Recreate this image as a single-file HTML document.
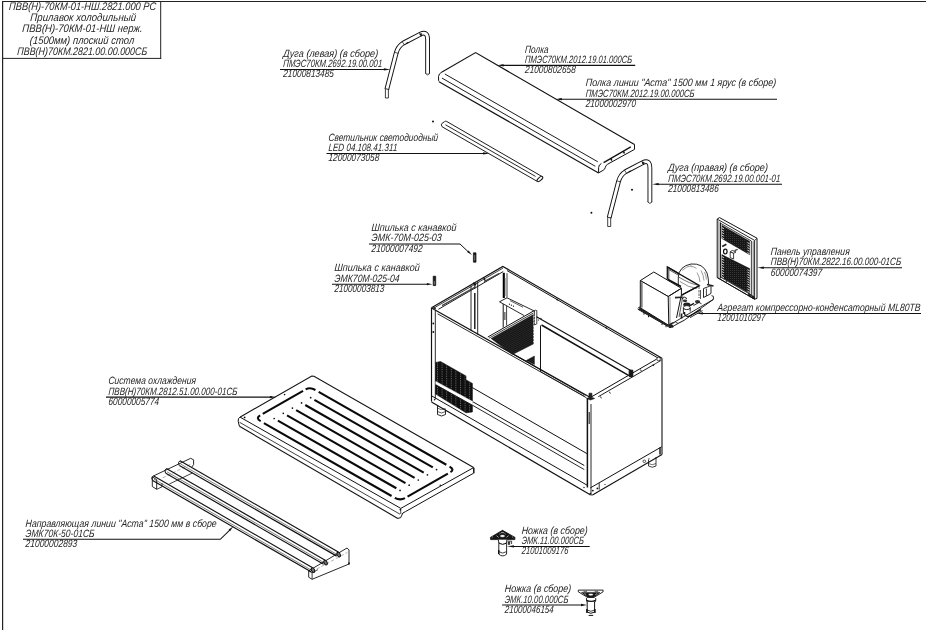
<!DOCTYPE html>
<html lang="ru"><head><meta charset="utf-8"><title>ПВВ(Н)-70КМ-01-НШ.2821.000 РС</title>
<style>
html,body{margin:0;padding:0;background:#fff}
body{width:926px;height:630px;overflow:hidden}
svg{display:block;will-change:transform}
text{font-family:"Liberation Sans",sans-serif;font-style:italic;fill:#262626}
.t{font-size:10.6px}
.h{font-size:11px}
</style></head><body>
<svg width="926" height="630" viewBox="0 0 926 630">
<rect width="926" height="630" fill="#fff"/>
<defs>
<pattern id="hx" width="2" height="2" patternUnits="userSpaceOnUse"><rect width="2" height="2" fill="#161616"/><rect x="0" y="0" width="0.6" height="0.6" fill="#6a6a6a"/></pattern>
<pattern id="hd" width="3" height="1.7" patternUnits="userSpaceOnUse" patternTransform="rotate(-29.5)"><rect width="3" height="1.7" fill="#121212"/><rect x="0" y="0" width="3" height="0.35" fill="#4a4a4a"/></pattern>
<pattern id="hg" width="4.6" height="1.8" patternUnits="userSpaceOnUse"><rect width="4.6" height="1.8" fill="#101010"/><rect x="0" y="0" width="0.7" height="0.9" fill="#8a8a8a"/></pattern>
</defs>
<line x1="2" y1="1.5" x2="926" y2="1.5" stroke="#222" stroke-width="1.2"/>
<line x1="2.6" y1="1" x2="2.6" y2="630" stroke="#222" stroke-width="1.2"/>
<line x1="2" y1="58.4" x2="161.2" y2="58.4" stroke="#222" stroke-width="1"/>
<line x1="160.7" y1="1" x2="160.7" y2="58.9" stroke="#222" stroke-width="1"/>
<text class="h" x="8.8" y="9.6" textLength="147.2" lengthAdjust="spacingAndGlyphs" transform="translate(8.8 9.6) skewX(-4) translate(-8.8 -9.6)">ПВВ(Н)-70КМ-01-НШ.2821.000 РС</text>
<text class="h" x="30" y="21" textLength="106" lengthAdjust="spacingAndGlyphs" transform="translate(30 21) skewX(-4) translate(-30 -21)">Прилавок холодильный</text>
<text class="h" x="22" y="32.5" textLength="120.5" lengthAdjust="spacingAndGlyphs" transform="translate(22 32.5) skewX(-4) translate(-22 -32.5)">ПВВ(Н)-70КМ-01-НШ нерж.</text>
<text class="h" x="29.5" y="44" textLength="104.5" lengthAdjust="spacingAndGlyphs" transform="translate(29.5 44) skewX(-4) translate(-29.5 -44)">(1500мм) плоский стол</text>
<text class="h" x="17" y="55.5" textLength="130" lengthAdjust="spacingAndGlyphs" transform="translate(17 55.5) skewX(-4) translate(-17 -55.5)">ПВВ(Н)70КМ.2821.00.00.000СБ</text>
<text class="t" x="283" y="56.7" textLength="95" lengthAdjust="spacingAndGlyphs" transform="translate(283 56.7) skewX(-4) translate(-283 -56.7)">Дуга (левая) (в сборе)</text>
<text class="t" x="283" y="67" textLength="99" lengthAdjust="spacingAndGlyphs" transform="translate(283 67) skewX(-4) translate(-283 -67)">ПМЭС70КМ.2692.19.00.001</text>
<text class="t" x="283" y="77.3" textLength="50.7" lengthAdjust="spacingAndGlyphs" transform="translate(283 77.3) skewX(-4) translate(-283 -77.3)">21000813485</text>
<line x1="280" y1="69.4" x2="386" y2="69.4" stroke="#111" stroke-width="1.05"/>
<polygon points="390.4,69.4 383.9,70.5 383.9,68.3" fill="#111"/>
<text class="t" x="328.2" y="140.7" textLength="109.8" lengthAdjust="spacingAndGlyphs" transform="translate(328.2 140.7) skewX(-4) translate(-328.2 -140.7)">Светильник светодиодный</text>
<text class="t" x="328.2" y="151" textLength="69" lengthAdjust="spacingAndGlyphs" transform="translate(328.2 151) skewX(-4) translate(-328.2 -151)">LED 04.108.41.311</text>
<text class="t" x="328.2" y="161.3" textLength="50.8" lengthAdjust="spacingAndGlyphs" transform="translate(328.2 161.3) skewX(-4) translate(-328.2 -161.3)">12000073058</text>
<line x1="326.5" y1="153.4" x2="485" y2="153.4" stroke="#111" stroke-width="1.05"/>
<polygon points="489.5,153.4 483,154.5 483,152.3" fill="#111"/>
<text class="t" x="524.8" y="52.65" textLength="23.6" lengthAdjust="spacingAndGlyphs" transform="translate(524.8 52.65) skewX(-4) translate(-524.8 -52.65)">Полка</text>
<text class="t" x="524.8" y="62.95" textLength="107.1" lengthAdjust="spacingAndGlyphs" transform="translate(524.8 62.95) skewX(-4) translate(-524.8 -62.95)">ПМЭС70КМ.2012.19.01.000СБ</text>
<text class="t" x="524.8" y="73.25" textLength="50.7" lengthAdjust="spacingAndGlyphs" transform="translate(524.8 73.25) skewX(-4) translate(-524.8 -73.25)">21000802658</text>
<line x1="501" y1="65.35" x2="635.2" y2="65.35" stroke="#111" stroke-width="1.05"/>
<polygon points="497.2,65.35 503.7,64.25 503.7,66.45" fill="#111"/>
<text class="t" x="585.5" y="86.5" textLength="190.5" lengthAdjust="spacingAndGlyphs" transform="translate(585.5 86.5) skewX(-4) translate(-585.5 -86.5)">Полка линии &quot;Аста&quot; 1500 мм 1 ярус (в сборе)</text>
<text class="t" x="585.5" y="96.8" textLength="108.9" lengthAdjust="spacingAndGlyphs" transform="translate(585.5 96.8) skewX(-4) translate(-585.5 -96.8)">ПМЭС70КМ.2012.19.00.000СБ</text>
<text class="t" x="585.5" y="107.1" textLength="50.2" lengthAdjust="spacingAndGlyphs" transform="translate(585.5 107.1) skewX(-4) translate(-585.5 -107.1)">21000002970</text>
<line x1="559" y1="99.2" x2="777" y2="99.2" stroke="#111" stroke-width="1.05"/>
<polygon points="555.4,99.2 561.9,98.1 561.9,100.3" fill="#111"/>
<text class="t" x="667.9" y="171.5" textLength="99.8" lengthAdjust="spacingAndGlyphs" transform="translate(667.9 171.5) skewX(-4) translate(-667.9 -171.5)">Дуга (правая) (в сборе)</text>
<text class="t" x="667.9" y="181.8" textLength="112.3" lengthAdjust="spacingAndGlyphs" transform="translate(667.9 181.8) skewX(-4) translate(-667.9 -181.8)">ПМЭС70КМ.2692.19.00.001-01</text>
<text class="t" x="667.9" y="192.1" textLength="50.6" lengthAdjust="spacingAndGlyphs" transform="translate(667.9 192.1) skewX(-4) translate(-667.9 -192.1)">21000813486</text>
<line x1="656" y1="184.2" x2="782" y2="184.2" stroke="#111" stroke-width="1.05"/>
<polygon points="652.2,184.2 658.7,183.1 658.7,185.3" fill="#111"/>
<text class="t" x="371.3" y="231.1" textLength="85" lengthAdjust="spacingAndGlyphs" transform="translate(371.3 231.1) skewX(-4) translate(-371.3 -231.1)">Шпилька с канавкой</text>
<text class="t" x="371.3" y="241.4" textLength="70.3" lengthAdjust="spacingAndGlyphs" transform="translate(371.3 241.4) skewX(-4) translate(-371.3 -241.4)">ЭМК-70М-025-03</text>
<text class="t" x="371.3" y="251.7" textLength="51" lengthAdjust="spacingAndGlyphs" transform="translate(371.3 251.7) skewX(-4) translate(-371.3 -251.7)">21000007492</text>
<polyline points="369,244 460,244 469,252.5" fill="none" stroke="#111" stroke-width="1"/>
<polygon points="471.9,255 467.14,252.03 468.65,250.43" fill="#111"/>
<text class="t" x="334.2" y="271.5" textLength="85.3" lengthAdjust="spacingAndGlyphs" transform="translate(334.2 271.5) skewX(-4) translate(-334.2 -271.5)">Шпилька с канавкой</text>
<text class="t" x="334.2" y="281.8" textLength="65.2" lengthAdjust="spacingAndGlyphs" transform="translate(334.2 281.8) skewX(-4) translate(-334.2 -281.8)">ЭМК70М-025-04</text>
<text class="t" x="334.2" y="292.1" textLength="49.9" lengthAdjust="spacingAndGlyphs" transform="translate(334.2 292.1) skewX(-4) translate(-334.2 -292.1)">21000003813</text>
<line x1="332" y1="284.2" x2="428" y2="284.2" stroke="#111" stroke-width="1.05"/>
<polygon points="432.4,284.2 426.9,285.3 426.9,283.1" fill="#111"/>
<text class="t" x="770.5" y="255" textLength="79" lengthAdjust="spacingAndGlyphs" transform="translate(770.5 255) skewX(-4) translate(-770.5 -255)">Панель управления</text>
<text class="t" x="770.5" y="265.3" textLength="130.5" lengthAdjust="spacingAndGlyphs" transform="translate(770.5 265.3) skewX(-4) translate(-770.5 -265.3)">ПВВ(Н)70КМ.2822.16.00.000-01СБ</text>
<text class="t" x="770.5" y="275.6" textLength="51.4" lengthAdjust="spacingAndGlyphs" transform="translate(770.5 275.6) skewX(-4) translate(-770.5 -275.6)">60000074397</text>
<line x1="761" y1="267.7" x2="902" y2="267.7" stroke="#111" stroke-width="1.05"/>
<polygon points="757.4,267.7 763.9,266.6 763.9,268.8" fill="#111"/>
<text class="t" x="717.3" y="311" textLength="203.1" lengthAdjust="spacingAndGlyphs" transform="translate(717.3 311) skewX(-4) translate(-717.3 -311)">Агрегат компрессорно-конденсаторный ML80TB</text>
<text class="t" x="717.3" y="321.3" textLength="47.7" lengthAdjust="spacingAndGlyphs" transform="translate(717.3 321.3) skewX(-4) translate(-717.3 -321.3)">12001010297</text>
<line x1="700" y1="313.4" x2="921" y2="313.4" stroke="#111" stroke-width="1.05"/>
<polygon points="696.5,313.4 703,312.3 703,314.5" fill="#111"/>
<text class="t" x="108.2" y="384.4" textLength="87.6" lengthAdjust="spacingAndGlyphs" transform="translate(108.2 384.4) skewX(-4) translate(-108.2 -384.4)">Система охлаждения</text>
<text class="t" x="108.2" y="394.7" textLength="129" lengthAdjust="spacingAndGlyphs" transform="translate(108.2 394.7) skewX(-4) translate(-108.2 -394.7)">ПВВ(Н)70КМ.2812.51.00.000-01СБ</text>
<text class="t" x="108.2" y="405" textLength="50.7" lengthAdjust="spacingAndGlyphs" transform="translate(108.2 405) skewX(-4) translate(-108.2 -405)">60000005774</text>
<line x1="106" y1="397.1" x2="272" y2="397.1" stroke="#111" stroke-width="1.05"/>
<polygon points="276.4,397.1 269.9,398.2 269.9,396" fill="#111"/>
<text class="t" x="25.3" y="526.6" textLength="191.2" lengthAdjust="spacingAndGlyphs" transform="translate(25.3 526.6) skewX(-4) translate(-25.3 -526.6)">Направляющая линии &quot;Аста&quot; 1500 мм в сборе</text>
<text class="t" x="25.3" y="536.9" textLength="69.1" lengthAdjust="spacingAndGlyphs" transform="translate(25.3 536.9) skewX(-4) translate(-25.3 -536.9)">ЭМК70К-50-01СБ</text>
<text class="t" x="25.3" y="547.2" textLength="51.7" lengthAdjust="spacingAndGlyphs" transform="translate(25.3 547.2) skewX(-4) translate(-25.3 -547.2)">21000002893</text>
<polyline points="23,539.3 220.3,539.3 230.5,529.3" fill="none" stroke="#111" stroke-width="1.05"/>
<polygon points="233.3,526.5 230.12,531.12 228.59,529.54" fill="#111"/>
<text class="t" x="521.4" y="533.7" textLength="66.1" lengthAdjust="spacingAndGlyphs" transform="translate(521.4 533.7) skewX(-4) translate(-521.4 -533.7)">Ножка (в сборе)</text>
<text class="t" x="521.4" y="544" textLength="62.4" lengthAdjust="spacingAndGlyphs" transform="translate(521.4 544) skewX(-4) translate(-521.4 -544)">ЭМК.11.00.000СБ</text>
<text class="t" x="521.4" y="554.3" textLength="46.8" lengthAdjust="spacingAndGlyphs" transform="translate(521.4 554.3) skewX(-4) translate(-521.4 -554.3)">21001009176</text>
<line x1="512" y1="546.4" x2="589.7" y2="546.4" stroke="#111" stroke-width="1.05"/>
<polygon points="507,546.4 514,545.2 514,547.6" fill="#111"/>
<text class="t" x="504.5" y="592.3" textLength="66.5" lengthAdjust="spacingAndGlyphs" transform="translate(504.5 592.3) skewX(-4) translate(-504.5 -592.3)">Ножка (в сборе)</text>
<text class="t" x="504.5" y="602.6" textLength="63.7" lengthAdjust="spacingAndGlyphs" transform="translate(504.5 602.6) skewX(-4) translate(-504.5 -602.6)">ЭМК.10.00.000СБ</text>
<text class="t" x="504.5" y="612.9" textLength="49" lengthAdjust="spacingAndGlyphs" transform="translate(504.5 612.9) skewX(-4) translate(-504.5 -612.9)">21000046154</text>
<line x1="502.1" y1="605" x2="582" y2="605" stroke="#111" stroke-width="1.05"/>
<polygon points="587,605 581,606.2 581,603.8" fill="#111"/>
<path d="M386.9,89 L396.2,53 Q398,46.2 403.5,43 L420,34.4 Q427.6,30.4 427.6,39.5 L427.6,73.4" fill="none" stroke="#111" stroke-width="4.8" stroke-linecap="butt" stroke-linejoin="round"/>
<path d="M386.9,89 L396.2,53 Q398,46.2 403.5,43 L420,34.4 Q427.6,30.4 427.6,39.5 L427.6,73.4" fill="none" stroke="#fff" stroke-width="2.9" stroke-linecap="butt" stroke-linejoin="round"/>
<path d="M425.3,73.4 q2.3,3 4.6,0" fill="none" stroke="#111" stroke-width="0.8"/>
<polyline points="385.4,89 385.4,98 388.4,98 388.4,89.3" fill="none" stroke="#111" stroke-width="0.8"/>
<line x1="384.7" y1="88.5" x2="389.2" y2="89.6" stroke="#111" stroke-width="0.8"/>
<line x1="394.5" y1="52.3" x2="398.4" y2="53.4" stroke="#111" stroke-width="0.7"/>
<line x1="402" y1="41.3" x2="404.4" y2="45" stroke="#111" stroke-width="0.7"/>
<line x1="419.5" y1="32.5" x2="421.2" y2="36.2" stroke="#111" stroke-width="0.9"/>
<path d="M609.2,217.5 L618.5,181.5 Q620.3,174.7 625.8,171.5 L642.3,162.9 Q649.9,158.9 649.9,168 L649.9,201.9" fill="none" stroke="#111" stroke-width="4.8" stroke-linecap="butt" stroke-linejoin="round"/>
<path d="M609.2,217.5 L618.5,181.5 Q620.3,174.7 625.8,171.5 L642.3,162.9 Q649.9,158.9 649.9,168 L649.9,201.9" fill="none" stroke="#fff" stroke-width="2.9" stroke-linecap="butt" stroke-linejoin="round"/>
<path d="M647.6,201.9 q2.3,3 4.6,0" fill="none" stroke="#111" stroke-width="0.8"/>
<polyline points="607.7,217.5 607.7,226.5 610.7,226.5 610.7,217.8" fill="none" stroke="#111" stroke-width="0.8"/>
<line x1="607" y1="217" x2="611.5" y2="218.1" stroke="#111" stroke-width="0.8"/>
<line x1="616.8" y1="180.8" x2="620.7" y2="181.9" stroke="#111" stroke-width="0.7"/>
<line x1="624.3" y1="169.8" x2="626.7" y2="173.5" stroke="#111" stroke-width="0.7"/>
<line x1="641.8" y1="161" x2="643.5" y2="164.7" stroke="#111" stroke-width="0.9"/>
<circle cx="433" cy="121.6" r="1.0" fill="#111"/>
<circle cx="632" cy="189.7" r="1.0" fill="#111"/>
<circle cx="591.4" cy="212.8" r="1.0" fill="#111"/>
<path d="M442,71.9 L475.6,52.6 L634.5,144.4" fill="none" stroke="#111" stroke-width="1.15"/>
<line x1="444.9" y1="74" x2="597.8" y2="161.8" stroke="#111" stroke-width="0.95"/>
<line x1="442" y1="78.1" x2="595.3" y2="166.3" stroke="#111" stroke-width="0.95"/>
<line x1="439.4" y1="81.9" x2="598.6" y2="172.9" stroke="#111" stroke-width="1.15"/>
<path d="M442,71.9 Q438.6,73.7 438.5,76.6 L438.6,80.4 Q438.7,81.5 439.6,82" fill="none" stroke="#111" stroke-width="1"/>
<path d="M634.5,144.4 L634.5,149.4 L607.7,164.2 Q605.6,165.4 605.3,167.4 Q605,169.4 603,170.4 L598.6,172.9 L598.6,167.6 Q598.8,164.6 601.4,163.5" fill="none" stroke="#111" stroke-width="1"/>
<line x1="603.6" y1="162.6" x2="630.8" y2="146.9" stroke="#111" stroke-width="1.3"/>
<line x1="610.8" y1="158.4" x2="611.8" y2="160.6" stroke="#111" stroke-width="1.5"/>
<line x1="623.4" y1="151.3" x2="624.4" y2="153.5" stroke="#111" stroke-width="1.5"/>
<path d="M542.5,176.8 L446.6,121.4 Q445.6,120.9 444.6,121.6 L441.8,123.6 Q440.8,124.6 442,126.6 L443,127.3 L537.1,181.3" fill="none" stroke="#111" stroke-width="0.95"/>
<line x1="445.5" y1="124.8" x2="535.5" y2="176.4" stroke="#111" stroke-width="0.9"/>
<ellipse cx="539.9" cy="179" rx="3.5" ry="1.6" fill="#fff" stroke="#111" stroke-width="1" transform="rotate(-40 539.9 179)"/>
<polygon points="419.6,34.4 421.6,35.6 421.8,33.6" fill="#111" stroke="#111" stroke-width="0.6"/>
<line x1="406.5" y1="43.2" x2="408.4" y2="42.4" stroke="#111" stroke-width="1.1"/>
<polygon points="641.9,162.9 643.9,164.1 644.1,162.1" fill="#111" stroke="#111" stroke-width="0.6"/>
<line x1="628.8" y1="171.7" x2="630.7" y2="170.9" stroke="#111" stroke-width="1.1"/>
<polyline points="431.5,307.7 502.8,266.4 662,358.3" fill="none" stroke="#111" stroke-width="1.2"/>
<line x1="433.2" y1="308.4" x2="503" y2="268.1" stroke="#111" stroke-width="0.8"/>
<line x1="438.4" y1="309.3" x2="503.2" y2="271.6" stroke="#111" stroke-width="0.95"/>
<line x1="507.1" y1="270.6" x2="659" y2="358.6" stroke="#111" stroke-width="1"/>
<line x1="432" y1="308.3" x2="589.5" y2="397" stroke="#111" stroke-width="1.2"/>
<line x1="437.6" y1="313.8" x2="586.5" y2="397.8" stroke="#111" stroke-width="0.9"/>
<line x1="591.7" y1="396.7" x2="656.5" y2="359.2" stroke="#111" stroke-width="1"/>
<line x1="598.3" y1="396.7" x2="655.4" y2="363.7" stroke="#111" stroke-width="0.95"/>
<line x1="655.4" y1="363.7" x2="661.5" y2="360.2" stroke="#111" stroke-width="0.8"/>
<line x1="431.5" y1="307.7" x2="431.5" y2="401.6" stroke="#111" stroke-width="1.2"/>
<line x1="435.3" y1="310.3" x2="435.3" y2="399.5" stroke="#111" stroke-width="0.9"/>
<circle cx="433.3" cy="323.5" r="0.9" fill="#111"/><circle cx="433.3" cy="332" r="0.9" fill="#111"/>
<circle cx="434.3" cy="308.3" r="1.6" fill="#333"/>
<line x1="431.5" y1="402" x2="590.2" y2="494.8" stroke="#111" stroke-width="1.2"/>
<line x1="431.5" y1="395.8" x2="587.3" y2="485.3" stroke="#111" stroke-width="1"/>
<circle cx="434.5" cy="399.8" r="0.7" fill="#111"/><circle cx="584" cy="487.5" r="0.7" fill="#111"/>
<line x1="472.4" y1="387.6" x2="586.9" y2="453.6" stroke="#111" stroke-width="1"/>
<line x1="472.4" y1="401.5" x2="584.3" y2="465.5" stroke="#111" stroke-width="1"/>
<line x1="472.4" y1="405.2" x2="584.3" y2="469.6" stroke="#111" stroke-width="0.9"/>
<line x1="587.4" y1="398" x2="587.4" y2="487.5" stroke="#111" stroke-width="1.5"/>
<line x1="591" y1="404" x2="591" y2="494" stroke="#111" stroke-width="0.9"/>
<line x1="589.2" y1="412" x2="589.2" y2="424" stroke="#111" stroke-width="1"/>
<line x1="662" y1="358.3" x2="662" y2="454.6" stroke="#111" stroke-width="1.1"/>
<line x1="590.3" y1="487.9" x2="661.6" y2="446.8" stroke="#111" stroke-width="1"/>
<line x1="590.2" y1="494.8" x2="592.5" y2="495" stroke="#111" stroke-width="1"/>
<line x1="592.5" y1="495" x2="662" y2="454.6" stroke="#111" stroke-width="1.1"/>
<line x1="599.2" y1="483.2" x2="599.2" y2="489.6" stroke="#111" stroke-width="0.9"/>
<circle cx="592.8" cy="490.6" r="0.9" fill="#111"/><circle cx="597.4" cy="488.4" r="0.9" fill="#111"/><circle cx="590.4" cy="493.6" r="0.9" fill="#111"/>
<polygon points="589,393.2 589,397.6 586.8,398.6 590.5,400 594.6,398.4 591.9,397.4 591.9,393.2" fill="#222" stroke="#111" stroke-width="0.6"/>
<polygon points="629.2,370.2 629.2,376.6 632.8,376.6 632.8,370.2" fill="#161616" stroke="#111" stroke-width="1"/>
<circle cx="658.6" cy="359" r="1.8" fill="#fff" stroke="#111" stroke-width="0.8"/>
<line x1="600.5" y1="396.5" x2="601.3" y2="398.3" stroke="#111" stroke-width="0.9"/>
<line x1="609.5" y1="391.8" x2="610.3" y2="393.6" stroke="#111" stroke-width="0.9"/>
<line x1="640.5" y1="369.5" x2="641.3" y2="371.3" stroke="#111" stroke-width="0.9"/>
<line x1="653" y1="364.3" x2="653.8" y2="366.1" stroke="#111" stroke-width="0.9"/>
<circle cx="644.3" cy="461.3" r="1.3" fill="#fff" stroke="#111" stroke-width="0.7"/>
<circle cx="649" cy="458.8" r="0.6" fill="#111"/><circle cx="605" cy="484.5" r="0.6" fill="#111"/>
<polyline points="660,447.5 660,454.5" fill="none" stroke="#111" stroke-width="1.4"/>
<path d="M648.5,459.5 L648.5,466 Q652.3,468.5 656,466 L656,457" fill="none" stroke="#111" stroke-width="0.8"/>
<path d="M648.5,463.5 Q652.3,466 656,463.5" fill="none" stroke="#111" stroke-width="0.6"/>
<path d="M437.5,405.5 L437.5,414.5 Q441.5,417.5 445.5,414.5 L445.5,409.5" fill="none" stroke="#111" stroke-width="0.9"/>
<path d="M437.5,411.5 Q441.5,414.5 445.5,411.5" fill="none" stroke="#111" stroke-width="0.7"/>
<path d="M437.5,408.2 Q441.5,411 445.5,408.4" fill="none" stroke="#111" stroke-width="0.6"/>
<polygon points="435.6,362.4 440.6,361.6 466,376 466,379.8 472.4,383.4 472.4,412 466,412.8 435.6,394" fill="url(#hg)" stroke="#111" stroke-width="0.6"/>
<polygon points="435.8,381.4 472.6,401.6 472.6,405 435.8,384.4" fill="#fff" stroke="#fff" stroke-width="0.5"/>
<line x1="435.8" y1="384.8" x2="472.6" y2="405.4" stroke="#111" stroke-width="0.9"/>
<line x1="471" y1="285.5" x2="471" y2="330.5" stroke="#111" stroke-width="0.9"/>
<line x1="477.7" y1="281.8" x2="477.7" y2="334.5" stroke="#111" stroke-width="0.9"/>
<line x1="474.8" y1="293" x2="474.8" y2="329" stroke="#111" stroke-width="1.4"/>
<line x1="474.8" y1="283.5" x2="474.8" y2="289" stroke="#111" stroke-width="1"/>
<polyline points="473,283 476,284.8" fill="none" stroke="#111" stroke-width="2"/>
<polyline points="483.5,277.2 485.5,281.2" fill="none" stroke="#111" stroke-width="1.2"/>
<line x1="442" y1="305.6" x2="475.5" y2="286.8" stroke="#444" stroke-width="1.3"/>
<line x1="484.2" y1="281.6" x2="499" y2="273.6" stroke="#444" stroke-width="1.3"/>
<line x1="503.8" y1="272.8" x2="503.8" y2="298" stroke="#000" stroke-width="2.1"/>
<line x1="507" y1="273.2" x2="507" y2="297.5" stroke="#111" stroke-width="0.8"/>
<line x1="505.2" y1="278" x2="505.2" y2="296" stroke="#555" stroke-width="0.6"/>
<line x1="503.2" y1="304" x2="503.2" y2="327.5" stroke="#111" stroke-width="1"/>
<line x1="506.6" y1="305.8" x2="506.6" y2="325.5" stroke="#111" stroke-width="0.8"/>
<line x1="504.9" y1="312" x2="504.9" y2="320" stroke="#111" stroke-width="0.9"/>
<polyline points="499.5,301.8 507,297.8 535.5,311.6" fill="none" stroke="#111" stroke-width="0.9"/>
<line x1="499.5" y1="301.8" x2="524" y2="315.5" stroke="#111" stroke-width="0.9"/>
<line x1="510" y1="300.6" x2="523" y2="307.2" stroke="#333" stroke-width="0.8"/>
<circle cx="509.5" cy="304.2" r="0.6" fill="#111"/><circle cx="511.5" cy="305.2" r="0.6" fill="#111"/><circle cx="513.5" cy="306.2" r="0.6" fill="#111"/>
<polygon points="491.1,338.5 533.3,314.6 533.3,344 512.4,354.6" fill="url(#hd)" stroke="#111" stroke-width="0.5"/>
<line x1="487.8" y1="337" x2="534.6" y2="310.4" stroke="#111" stroke-width="1"/>
<line x1="489" y1="338.2" x2="533.4" y2="313" stroke="#111" stroke-width="0.8"/>
<polygon points="534.4,311 534.4,325 536.8,323.8 536.8,310.6 535.4,310.2" fill="#fff" stroke="#111" stroke-width="0.8"/>
<line x1="533.2" y1="317" x2="534.6" y2="316.4" stroke="#fff" stroke-width="0.8"/>
<line x1="533.2" y1="320.1" x2="534.6" y2="319.5" stroke="#fff" stroke-width="0.8"/>
<line x1="533.2" y1="323.2" x2="534.6" y2="322.6" stroke="#fff" stroke-width="0.8"/>
<line x1="533.2" y1="326.3" x2="534.6" y2="325.7" stroke="#fff" stroke-width="0.8"/>
<line x1="533.2" y1="329.4" x2="534.6" y2="328.8" stroke="#fff" stroke-width="0.8"/>
<line x1="533.2" y1="332.5" x2="534.6" y2="331.9" stroke="#fff" stroke-width="0.8"/>
<line x1="533.2" y1="335.6" x2="534.6" y2="335" stroke="#fff" stroke-width="0.8"/>
<line x1="533.2" y1="338.7" x2="534.6" y2="338.1" stroke="#fff" stroke-width="0.8"/>
<line x1="533.2" y1="341.8" x2="534.6" y2="341.2" stroke="#fff" stroke-width="0.8"/>
<polygon points="526.1,360.6 534.4,356.1 534.4,364.4" fill="url(#hd)" stroke="#111" stroke-width="0.5"/>
<line x1="515" y1="355" x2="534.5" y2="365.8" stroke="#111" stroke-width="0.7"/>
<line x1="540.5" y1="325.5" x2="540.5" y2="371.5" stroke="#111" stroke-width="1"/>
<line x1="536.5" y1="316.8" x2="630.7" y2="370.6" stroke="#111" stroke-width="1.2"/>
<line x1="541.5" y1="325" x2="628.5" y2="375.3" stroke="#111" stroke-width="1.5"/>
<circle cx="538.5" cy="320" r="0.6" fill="#111"/><circle cx="541" cy="318.3" r="0.6" fill="#111"/>
<line x1="513" y1="354.2" x2="585.5" y2="395.3" stroke="#111" stroke-width="0.9"/>
<line x1="540.5" y1="371.5" x2="584.5" y2="396.3" stroke="#111" stroke-width="0.7"/>
<line x1="556.5" y1="298.8" x2="557.7" y2="300.4" stroke="#111" stroke-width="1.2"/>
<line x1="605.5" y1="327" x2="606.7" y2="328.6" stroke="#111" stroke-width="1.2"/>
<path d="M240.3,416.9 L311.8,376.1 L314,376.2 L473.6,467.6" fill="none" stroke="#111" stroke-width="1.1"/>
<line x1="240" y1="417.1" x2="400.8" y2="508.4" stroke="#111" stroke-width="1"/>
<line x1="239.6" y1="422.3" x2="400" y2="514.2" stroke="#111" stroke-width="0.8"/>
<line x1="239.4" y1="426.3" x2="397.8" y2="518.4" stroke="#111" stroke-width="1.1"/>
<path d="M240.3,416.9 Q237.8,418.1 238.2,421.2 L239.4,426.3" fill="none" stroke="#111" stroke-width="1"/>
<path d="M400.8,508.4 L473.6,467.6" fill="none" stroke="#111" stroke-width="1"/>
<path d="M397.8,518.4 Q401.5,518.6 401.8,515.2 Q402,512.6 405.5,511.6 L473.6,473.2" fill="none" stroke="#111" stroke-width="1"/>
<line x1="473.8" y1="467.8" x2="473.8" y2="473.2" stroke="#111" stroke-width="1.5"/>
<line x1="400.6" y1="508.6" x2="400.8" y2="514" stroke="#111" stroke-width="0.8"/>
<circle cx="400.4" cy="509.6" r="0.9" fill="#111"/>
<circle cx="244.6" cy="417.4" r="0.9" fill="#111"/><circle cx="284.6" cy="394.6" r="0.8" fill="#111"/><circle cx="440.3" cy="485.2" r="0.8" fill="#111"/>
<line x1="263.91" y1="423.05" x2="391.57" y2="495.97" stroke="#0a0a0a" stroke-width="2.1"/>
<line x1="277.88" y1="420.61" x2="396.34" y2="488.27" stroke="#0a0a0a" stroke-width="2.1"/>
<circle cx="274.17" cy="418.49" r="0.85" fill="#111"/>
<circle cx="400.05" cy="490.39" r="0.85" fill="#111"/>
<line x1="287.01" y1="415.41" x2="405.46" y2="483.07" stroke="#0a0a0a" stroke-width="2.1"/>
<circle cx="283.29" cy="413.29" r="0.85" fill="#111"/>
<circle cx="409.18" cy="485.19" r="0.85" fill="#111"/>
<line x1="296.14" y1="410.2" x2="414.59" y2="477.86" stroke="#0a0a0a" stroke-width="2.1"/>
<circle cx="292.42" cy="408.08" r="0.85" fill="#111"/>
<circle cx="418.31" cy="479.98" r="0.85" fill="#111"/>
<line x1="305.26" y1="405" x2="423.72" y2="472.66" stroke="#0a0a0a" stroke-width="2.1"/>
<circle cx="301.55" cy="402.88" r="0.85" fill="#111"/>
<circle cx="427.43" cy="474.78" r="0.85" fill="#111"/>
<line x1="314.39" y1="399.8" x2="432.84" y2="467.45" stroke="#0a0a0a" stroke-width="2.1"/>
<circle cx="310.67" cy="397.67" r="0.85" fill="#111"/>
<circle cx="436.56" cy="469.57" r="0.85" fill="#111"/>
<line x1="318.67" y1="391.82" x2="446.33" y2="464.74" stroke="#0a0a0a" stroke-width="2.1"/>
<line x1="262.74" y1="413.94" x2="303.07" y2="390.94" stroke="#0a0a0a" stroke-width="2.1"/>
<line x1="407.54" y1="496.64" x2="447.87" y2="473.64" stroke="#0a0a0a" stroke-width="2.1"/>
<path d="M305.66,389.46 Q310.1,386.93 315.44,389.98" fill="none" stroke="#0a0a0a" stroke-width="2.1"/>
<path d="M260.15,415.41 Q255.34,418.16 260.68,421.2" fill="none" stroke="#0a0a0a" stroke-width="2.1"/>
<path d="M450.46,472.16 Q454.9,469.63 449.56,466.58" fill="none" stroke="#0a0a0a" stroke-width="2.1"/>
<path d="M404.95,498.12 Q400.14,500.86 394.8,497.81" fill="none" stroke="#0a0a0a" stroke-width="2.1"/>
<polygon points="152.3,476.8 152.3,486.5 156.7,489.3 156.7,479.6" fill="#fff" stroke="#111" stroke-width="0.9"/>
<polyline points="156.7,489.3 162,486.8 162,483" fill="none" stroke="#111" stroke-width="0.8"/>
<polyline points="153.8,475.8 190.7,458.3 193.6,459.8 193.6,464.6 191.6,467.4" fill="none" stroke="#111" stroke-width="0.9"/>
<line x1="169.3" y1="484" x2="192.6" y2="472.9" stroke="#111" stroke-width="0.8"/>
<line x1="162.5" y1="478" x2="191.5" y2="463.8" stroke="#666" stroke-width="0.5" stroke-dasharray="3.5 2"/>
<polygon points="308.7,570.8 347,548 349,549.9 349,564 312.1,579.3 308.7,577.2" fill="#fff" stroke="#111" stroke-width="0.9"/>
<polyline points="308.7,570.8 312.1,572.8 312.1,579.3" fill="none" stroke="#111" stroke-width="0.8"/>
<line x1="312.1" y1="572.8" x2="318" y2="569.6" stroke="#111" stroke-width="0.7"/>
<line x1="316.5" y1="569.2" x2="347.4" y2="552.4" stroke="#666" stroke-width="0.5" stroke-dasharray="3.5 2"/>
<line x1="349" y1="562.5" x2="349" y2="564.6" stroke="#111" stroke-width="1.6"/>
<line x1="180" y1="460.7" x2="338.3" y2="552.12" stroke="#111" stroke-width="1.15"/>
<line x1="180.6" y1="464" x2="337.1" y2="554.52" stroke="#333" stroke-width="0.6"/>
<line x1="179.4" y1="465.5" x2="336.7" y2="556.12" stroke="#111" stroke-width="1.2"/>
<line x1="166.4" y1="468.5" x2="325.2" y2="560.21" stroke="#111" stroke-width="1.15"/>
<line x1="167" y1="471.8" x2="324" y2="562.61" stroke="#333" stroke-width="0.6"/>
<line x1="165.8" y1="473.3" x2="323.6" y2="564.21" stroke="#111" stroke-width="1.2"/>
<line x1="153.3" y1="475.8" x2="312.6" y2="567.8" stroke="#111" stroke-width="1.15"/>
<line x1="153.9" y1="479.1" x2="311.4" y2="570.2" stroke="#333" stroke-width="0.6"/>
<line x1="152.7" y1="480.6" x2="311" y2="571.8" stroke="#111" stroke-width="1.2"/>
<path d="M180,460.7 q-2.6,1.4 -0.8,4.8" fill="none" stroke="#111" stroke-width="1"/>
<ellipse cx="338.7" cy="554.52" rx="1.5" ry="2.5" fill="#777" stroke="#111" stroke-width="1" transform="rotate(-25 338.7 554.52)"/>
<path d="M166.4,468.5 q-2.6,1.4 -0.8,4.8" fill="none" stroke="#111" stroke-width="1"/>
<ellipse cx="325.6" cy="562.61" rx="1.5" ry="2.5" fill="#777" stroke="#111" stroke-width="1" transform="rotate(-25 325.6 562.61)"/>
<path d="M153.3,475.8 q-2.6,1.4 -0.8,4.8" fill="none" stroke="#111" stroke-width="1"/>
<ellipse cx="313" cy="570.2" rx="1.5" ry="2.5" fill="#777" stroke="#111" stroke-width="1" transform="rotate(-25 313 570.2)"/>
<polygon points="473.4,252.8 476,252.8 476,262.2 473.4,262.2" fill="#1a1a1a" stroke="#111" stroke-width="0.7"/>
<line x1="474.7" y1="255" x2="474.7" y2="260.5" stroke="#ccc" stroke-width="0.5"/>
<polygon points="433.2,276.2 435.7,276.2 435.7,285.6 433.2,285.6" fill="#1a1a1a" stroke="#111" stroke-width="0.7"/>
<line x1="434.4" y1="281" x2="434.4" y2="284.5" stroke="#ccc" stroke-width="0.5"/>
<polygon points="502.5,530.3 490.4,537.4 490.6,539.6 514.8,539.6 515,537.4" fill="#161616" stroke="#111" stroke-width="0.8"/>
<ellipse cx="502.5" cy="536" rx="2.6" ry="1.3" fill="#fff" stroke="#111" stroke-width="0.4"/>
<line x1="496.5" y1="535.6" x2="498.5" y2="537.4" stroke="#ddd" stroke-width="0.7"/>
<line x1="506.5" y1="537.4" x2="508.6" y2="535.6" stroke="#ddd" stroke-width="0.7"/>
<line x1="491.8" y1="537.6" x2="492.8" y2="536.8" stroke="#ddd" stroke-width="0.7"/>
<line x1="512.2" y1="536.8" x2="513.2" y2="537.6" stroke="#ddd" stroke-width="0.7"/>
<line x1="501" y1="532.6" x2="504" y2="532.6" stroke="#ddd" stroke-width="0.7"/>
<line x1="499.5" y1="534" x2="500.5" y2="533.4" stroke="#ddd" stroke-width="0.7"/>
<line x1="504.5" y1="533.4" x2="505.5" y2="534" stroke="#ddd" stroke-width="0.7"/>
<path d="M498.4,539.8 L498.8,543 Q502.6,545.4 506.6,543 L506.8,539.8" fill="#fff" stroke="#111" stroke-width="0.9"/>
<path d="M498.8,543.2 L498.8,554.2 Q502.6,557.6 506.6,554.2 L506.6,543.2" fill="#fff" stroke="#111" stroke-width="0.9"/>
<path d="M498.8,543.2 Q502.6,545.6 506.6,543.2" fill="none" stroke="#111" stroke-width="1"/>
<path d="M498.8,551.6 Q502.6,554.6 506.6,551.6" fill="none" stroke="#111" stroke-width="0.8"/>
<line x1="498.7" y1="550" x2="498.7" y2="554" stroke="#111" stroke-width="1.4"/>
<polyline points="507.4,541.2 511.6,541.2 511.6,544" fill="none" stroke="#111" stroke-width="0.8"/>
<polygon points="508.2,542 509.8,542 509.8,544.6 508.2,544.6" fill="#222" stroke="#111" stroke-width="0.5"/>
<polygon points="578.3,590.1 603.1,590.1 603.1,591.8 593,598 588.6,598 578.3,591.8" fill="#fff" stroke="#111" stroke-width="0.9"/>
<polygon points="581.5,592.4 600,592.4 593,597.8 588.6,597.8" fill="#161616" stroke="#111" stroke-width="0.5"/>
<ellipse cx="590.8" cy="594.6" rx="2.4" ry="1.2" fill="#fff" stroke="#111" stroke-width="0.4"/>
<line x1="583.5" y1="591.3" x2="587" y2="591.3" stroke="#333" stroke-width="0.8"/>
<line x1="594.6" y1="591.3" x2="598.2" y2="591.3" stroke="#333" stroke-width="0.8"/>
<line x1="584.5" y1="593.6" x2="586.2" y2="594.6" stroke="#ddd" stroke-width="0.7"/>
<line x1="595.4" y1="594.6" x2="597.2" y2="593.6" stroke="#ddd" stroke-width="0.7"/>
<path d="M586.4,598 L586.6,601.4 Q591,603.8 595.6,601.4 L595.8,598" fill="#fff" stroke="#111" stroke-width="0.9"/>
<path d="M587.2,601.8 L587.2,612 Q590.8,614.6 594.6,612 L594.6,601.8" fill="#fff" stroke="#111" stroke-width="1"/>
<path d="M586.6,600.2 Q591,602.6 595.6,600.2" fill="none" stroke="#111" stroke-width="1.2"/>
<path d="M587.2,610 Q590.8,612.6 594.6,610" fill="none" stroke="#111" stroke-width="0.8"/>
<line x1="586.9" y1="609" x2="586.9" y2="613" stroke="#111" stroke-width="1.5"/>
<line x1="594.9" y1="609" x2="594.9" y2="613" stroke="#111" stroke-width="1.5"/>
<line x1="588.6" y1="615.4" x2="593.2" y2="615.4" stroke="#111" stroke-width="1"/>
<polygon points="717.2,219.1 719.5,217.6 757,238.2 757,298.4 754.6,299.2 717.2,277.5" fill="#fff" stroke="#111" stroke-width="1"/>
<line x1="717.2" y1="219.1" x2="754.6" y2="240.4" stroke="#111" stroke-width="0.9"/>
<line x1="754.6" y1="240.4" x2="757" y2="238.4" stroke="#111" stroke-width="0.8"/>
<line x1="754.6" y1="240.4" x2="754.6" y2="299.2" stroke="#111" stroke-width="0.9"/>
<line x1="753.2" y1="241.2" x2="753.2" y2="297.6" stroke="#333" stroke-width="0.7"/>
<line x1="718.8" y1="221" x2="718.8" y2="277.8" stroke="#444" stroke-width="0.6"/>
<line x1="720.4" y1="222.6" x2="720.4" y2="278.6" stroke="#111" stroke-width="1.1"/>
<polyline points="720.4,223.2 751.4,241 751.4,296.6" fill="none" stroke="#111" stroke-width="0.8"/>
<line x1="717.2" y1="277.5" x2="754.6" y2="299.2" stroke="#111" stroke-width="0.9"/>
<line x1="720.4" y1="277" x2="751.4" y2="295.2" stroke="#111" stroke-width="0.7"/>
<polygon points="721.8,225.3 749.7,241.3 749.7,254.7 721.8,238.6" fill="#181818" stroke="#111" stroke-width="0.4"/>
<polygon points="721.8,254.6 749.7,268.6 749.7,293.6 721.8,277.6" fill="#181818" stroke="#111" stroke-width="0.4"/>
<polygon points="724.2,228 747,241 747,252.4 724.2,239.4" fill="url(#hx)" stroke="#222" stroke-width="0.3"/>
<polygon points="724.2,257 747,268.6 747,291.2 724.2,278.2" fill="url(#hx)" stroke="#222" stroke-width="0.3"/>
<line x1="721.9" y1="227.6" x2="723.9" y2="228.7" stroke="#eee" stroke-width="0.9"/>
<line x1="721.9" y1="230.1" x2="723.9" y2="231.2" stroke="#eee" stroke-width="0.9"/>
<line x1="721.9" y1="232.6" x2="723.9" y2="233.7" stroke="#eee" stroke-width="0.9"/>
<line x1="721.9" y1="235.1" x2="723.9" y2="236.2" stroke="#eee" stroke-width="0.9"/>
<line x1="721.9" y1="237.6" x2="723.9" y2="238.7" stroke="#eee" stroke-width="0.9"/>
<line x1="721.9" y1="256.6" x2="723.9" y2="257.7" stroke="#eee" stroke-width="0.9"/>
<line x1="721.9" y1="259.1" x2="723.9" y2="260.2" stroke="#eee" stroke-width="0.9"/>
<line x1="721.9" y1="261.6" x2="723.9" y2="262.7" stroke="#eee" stroke-width="0.9"/>
<line x1="721.9" y1="264.1" x2="723.9" y2="265.2" stroke="#eee" stroke-width="0.9"/>
<line x1="721.9" y1="266.6" x2="723.9" y2="267.7" stroke="#eee" stroke-width="0.9"/>
<line x1="721.9" y1="269.1" x2="723.9" y2="270.2" stroke="#eee" stroke-width="0.9"/>
<line x1="721.9" y1="271.6" x2="723.9" y2="272.7" stroke="#eee" stroke-width="0.9"/>
<line x1="721.9" y1="274.1" x2="723.9" y2="275.2" stroke="#eee" stroke-width="0.9"/>
<line x1="721.9" y1="276.6" x2="723.9" y2="277.7" stroke="#eee" stroke-width="0.9"/>
<line x1="747.4" y1="242.6" x2="749.6" y2="243.8" stroke="#eee" stroke-width="0.9"/>
<line x1="747.4" y1="245.1" x2="749.6" y2="246.3" stroke="#eee" stroke-width="0.9"/>
<line x1="747.4" y1="247.6" x2="749.6" y2="248.8" stroke="#eee" stroke-width="0.9"/>
<line x1="747.4" y1="250.1" x2="749.6" y2="251.3" stroke="#eee" stroke-width="0.9"/>
<line x1="747.4" y1="252.6" x2="749.6" y2="253.8" stroke="#eee" stroke-width="0.9"/>
<line x1="747.4" y1="269.6" x2="749.6" y2="270.8" stroke="#eee" stroke-width="0.9"/>
<line x1="747.4" y1="272" x2="749.6" y2="273.2" stroke="#eee" stroke-width="0.9"/>
<line x1="747.4" y1="274.4" x2="749.6" y2="275.6" stroke="#eee" stroke-width="0.9"/>
<line x1="747.4" y1="276.8" x2="749.6" y2="278" stroke="#eee" stroke-width="0.9"/>
<line x1="747.4" y1="279.2" x2="749.6" y2="280.4" stroke="#eee" stroke-width="0.9"/>
<line x1="747.4" y1="281.6" x2="749.6" y2="282.8" stroke="#eee" stroke-width="0.9"/>
<line x1="747.4" y1="284" x2="749.6" y2="285.2" stroke="#eee" stroke-width="0.9"/>
<line x1="747.4" y1="286.4" x2="749.6" y2="287.6" stroke="#eee" stroke-width="0.9"/>
<line x1="747.4" y1="288.8" x2="749.6" y2="290" stroke="#eee" stroke-width="0.9"/>
<line x1="747.4" y1="291.2" x2="749.6" y2="292.4" stroke="#eee" stroke-width="0.9"/>
<line x1="722.2" y1="246.4" x2="726.4" y2="244.2" stroke="#222" stroke-width="1.7"/>
<ellipse cx="725.3" cy="251.6" rx="1.8" ry="2.4" fill="#fff" stroke="#111" stroke-width="1.2"/>
<polygon points="730.2,251.8 730.2,257.6 733.6,259 733.6,253.2" fill="#fff" stroke="#111" stroke-width="0.8"/>
<polygon points="730.2,251.8 732.4,250.4 736,252 733.6,253.2" fill="#fff" stroke="#111" stroke-width="0.8"/>
<line x1="734.6" y1="250.6" x2="737.6" y2="249.4" stroke="#111" stroke-width="1.1"/>
<polygon points="748.5,293.4 750.8,294.7 750.8,297 748.5,295.7" fill="#222" stroke="#111" stroke-width="0.6"/>
<polygon points="752,295.6 754.2,296.8 754.2,299 752,297.8" fill="#222" stroke="#111" stroke-width="0.6"/>
<circle cx="726.5" cy="281.2" r="0.6" fill="#111"/>
<polyline points="637.8,308.2 640.3,306.6 640.3,308.6 668.8,325.4 713.4,299.4 713.4,296.4 711.5,295.6" fill="none" stroke="#111" stroke-width="0.9"/>
<polyline points="637.8,309.2 670,327.6 684,320.4" fill="none" stroke="#111" stroke-width="1"/>
<line x1="639" y1="308.6" x2="668" y2="325.4" stroke="#222" stroke-width="1.8"/>
<polygon points="668.6,324.6 672.6,322.6 674,325.4 670.4,327.8" fill="#222" stroke="#111" stroke-width="0.6"/>
<line x1="670" y1="327.6" x2="668.8" y2="325.4" stroke="#111" stroke-width="0.8"/>
<line x1="684" y1="320.4" x2="713.4" y2="299.4" stroke="#111" stroke-width="0.9"/>
<line x1="644" y1="313" x2="644" y2="314.6" stroke="#111" stroke-width="1"/>
<line x1="648.5" y1="315.6" x2="648.5" y2="317.2" stroke="#111" stroke-width="1"/>
<line x1="662" y1="323.4" x2="662" y2="325" stroke="#111" stroke-width="1"/>
<line x1="666" y1="325.6" x2="666" y2="327.2" stroke="#111" stroke-width="1"/>
<polygon points="671,324.6 675.5,322 678,323.4 673.5,326" fill="#fff" stroke="#111" stroke-width="0.7"/>
<circle cx="672.3" cy="326.6" r="1.2" fill="#222"/>
<polyline points="667.3,279 667.3,267 699.5,285.6 681.4,295.2" fill="none" stroke="#111" stroke-width="1.3"/>
<line x1="668.8" y1="268.4" x2="668.8" y2="279.6" stroke="#111" stroke-width="0.8"/>
<line x1="668.8" y1="269.6" x2="697" y2="286" stroke="#111" stroke-width="0.7"/>
<path d="M678.3,290 L678.3,277 Q679,266.4 691,264 Q703,263 707,273 Q708.6,278 708.6,284" fill="#fff" stroke="#111" stroke-width="0.9"/>
<path d="M678.6,277 Q690,284 699,285.4" fill="none" stroke="#333" stroke-width="0.7"/>
<path d="M682,270.5 Q686.5,266.3 691.5,265.6" fill="none" stroke="#555" stroke-width="0.6"/>
<path d="M690.5,266.6 Q694,266.2 696.5,268.4" fill="none" stroke="#555" stroke-width="0.6"/>
<path d="M697,272.5 Q699.5,276.5 700,282" fill="none" stroke="#555" stroke-width="0.6"/>
<path d="M701,270.5 Q703.6,275 704,280.5" fill="none" stroke="#555" stroke-width="0.6"/>
<path d="M704.5,272 Q706.2,275.5 706.4,279.5" fill="none" stroke="#555" stroke-width="0.6"/>
<path d="M680,281.5 Q688,287.5 697,288.5" fill="none" stroke="#444" stroke-width="0.6"/>
<line x1="699.5" y1="285.6" x2="681.4" y2="295.2" stroke="#111" stroke-width="1.3"/>
<line x1="667.3" y1="267" x2="699.5" y2="285.6" stroke="#111" stroke-width="1.3"/>
<polygon points="640.3,280.6 653.8,272 681.4,288.3 668.2,296.5" fill="#fff" stroke="#111" stroke-width="1"/>
<polygon points="640.3,280.6 668.2,296.5 668.8,325.4 640.3,307.8" fill="#fff" stroke="#111" stroke-width="1"/>
<line x1="641.9" y1="282.4" x2="641.9" y2="307.6" stroke="#111" stroke-width="0.9"/>
<polyline points="668.2,296.5 681.4,288.3 681.4,294.8" fill="none" stroke="#111" stroke-width="1"/>
<line x1="670" y1="297" x2="670" y2="325" stroke="#444" stroke-width="0.6"/>
<line x1="667.6" y1="279.2" x2="681" y2="286.6" stroke="#111" stroke-width="1.7"/>
<line x1="681.4" y1="294.8" x2="676.5" y2="318" stroke="#111" stroke-width="1"/>
<line x1="683" y1="295.5" x2="679" y2="317" stroke="#111" stroke-width="0.7"/>
<line x1="675" y1="297.6" x2="682" y2="297.2" stroke="#222" stroke-width="1.6"/>
<path d="M681.5,299 L684.5,297.2 L687,298.6" fill="none" stroke="#111" stroke-width="1"/>
<ellipse cx="686.8" cy="304.6" rx="3.6" ry="2.2" fill="#222"/>
<ellipse cx="686.8" cy="307.6" rx="3.4" ry="2.0" fill="#fff" stroke="#111" stroke-width="0.9"/>
<ellipse cx="685" cy="300.8" rx="2.2" ry="1.4" fill="#333"/>
<line x1="683.4" y1="308" x2="683.4" y2="314" stroke="#111" stroke-width="0.9"/>
<line x1="690.2" y1="308" x2="690.2" y2="311.5" stroke="#111" stroke-width="0.9"/>
<path d="M684.5,312 Q684,316.5 688.5,316.5 L701,309.6" fill="none" stroke="#111" stroke-width="1.4"/>
<line x1="690" y1="317.6" x2="702.5" y2="310.6" stroke="#111" stroke-width="0.9"/>
<ellipse cx="697.5" cy="301.6" rx="2.6" ry="1.7" fill="#333"/>
<polyline points="693.5,305.5 699,302.4 701.5,303.8" fill="none" stroke="#111" stroke-width="0.9"/>
<line x1="690" y1="305.6" x2="694" y2="303.4" stroke="#111" stroke-width="1.2"/>
<line x1="681.5" y1="313.5" x2="681.5" y2="318.5" stroke="#222" stroke-width="1.8"/>
<polygon points="703.5,288.5 703.5,297.5 708,295.2 711,293.4 711,285.5 707.5,287" fill="#fff" stroke="#111" stroke-width="0.9"/>
<line x1="706.4" y1="288.6" x2="706.4" y2="296" stroke="#111" stroke-width="0.8"/>
<line x1="699" y1="286.5" x2="699" y2="298" stroke="#333" stroke-width="0.8" stroke-dasharray="2.5 1"/>
<line x1="707" y1="284.6" x2="713.5" y2="286" stroke="#222" stroke-width="1.5"/>
<line x1="700.5" y1="290" x2="700.5" y2="299" stroke="#111" stroke-width="0.7"/>
</svg>
</body></html>
